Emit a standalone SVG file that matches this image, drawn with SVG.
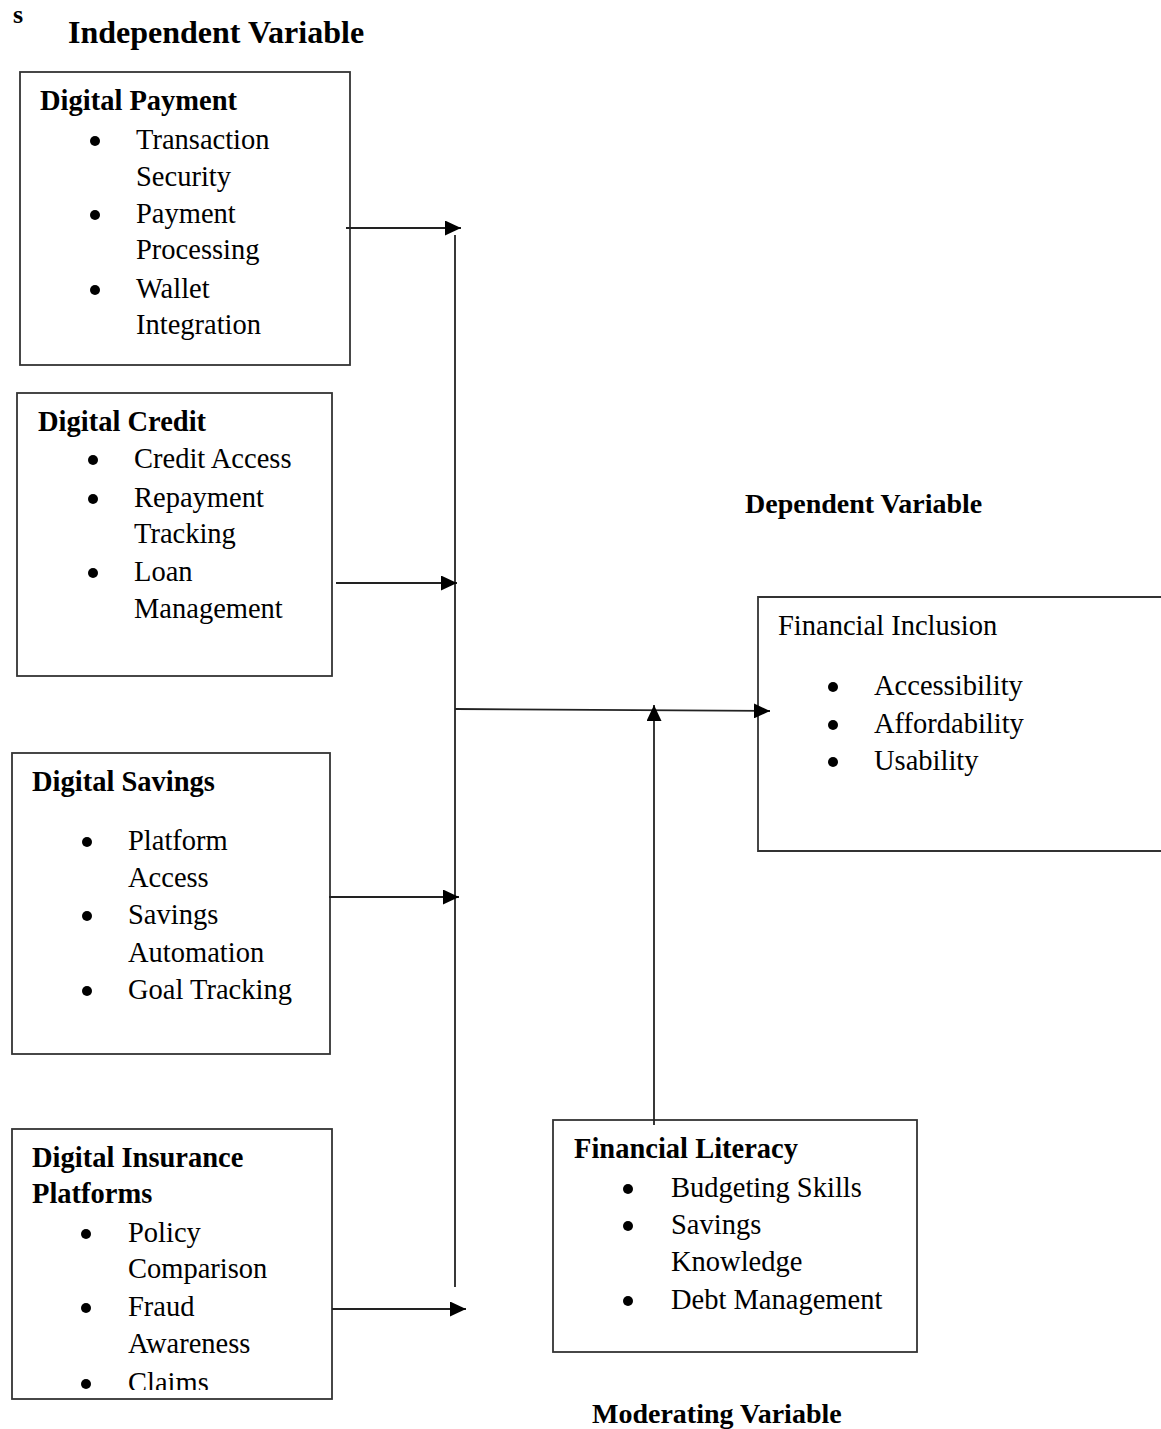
<svg xmlns="http://www.w3.org/2000/svg" width="1161" height="1429" viewBox="0 0 1161 1429">
<style>
text{font-family:"Liberation Serif","Times New Roman",serif;fill:#000}
.t{font-size:28.5px}
.b{font-size:28.5px;font-weight:bold}
.h{font-size:28px;font-weight:bold}
.box{fill:#fff;stroke:#333;stroke-width:1.8}
.c{fill:none;stroke:#222;stroke-width:1.8}
.dot{fill:#000}
</style>
<defs>
<marker id="ah" viewBox="0 0 16 15" refX="16" refY="7.5" markerWidth="16" markerHeight="15" markerUnits="userSpaceOnUse" orient="auto">
<path d="M0,0 L16,7.5 L0,15 z" fill="#000"/>
</marker>
<clipPath id="clipIns"><rect x="0" y="1120" width="400" height="270"/></clipPath>
</defs>
<rect width="1161" height="1429" fill="#fff"/>

<text x="13" y="23" style="font-size:26px;font-weight:bold">s</text>
<text x="68" y="43" style="font-size:32px;font-weight:bold">Independent Variable</text>
<text x="745" y="513" class="h">Dependent Variable</text>
<text x="592" y="1423" class="h">Moderating Variable</text>

<g id="digital-payment">
<rect class="box" x="20" y="72" width="330" height="293"/>
<text x="40" y="110" class="b">Digital Payment</text>
<circle class="dot" cx="95" cy="141" r="5"/>
<text x="136" y="149" class="t">Transaction</text>
<text x="136" y="186" class="t">Security</text>
<circle class="dot" cx="95" cy="215" r="5"/>
<text x="136" y="223" class="t">Payment</text>
<text x="136" y="259" class="t">Processing</text>
<circle class="dot" cx="95" cy="290" r="5"/>
<text x="136" y="298" class="t">Wallet</text>
<text x="136" y="334" class="t">Integration</text>
</g>

<g id="digital-credit">
<rect class="box" x="17" y="393" width="315" height="283"/>
<text x="38" y="431" class="b">Digital Credit</text>
<circle class="dot" cx="93" cy="460" r="5"/>
<text x="134" y="468" class="t">Credit Access</text>
<circle class="dot" cx="93" cy="499" r="5"/>
<text x="134" y="507" class="t">Repayment</text>
<text x="134" y="543" class="t">Tracking</text>
<circle class="dot" cx="93" cy="573" r="5"/>
<text x="134" y="581" class="t">Loan</text>
<text x="134" y="618" class="t">Management</text>
</g>

<g id="digital-savings">
<rect class="box" x="12" y="753" width="318" height="301"/>
<text x="32" y="791" class="b">Digital Savings</text>
<circle class="dot" cx="87" cy="842" r="5"/>
<text x="128" y="850" class="t">Platform</text>
<text x="128" y="887" class="t">Access</text>
<circle class="dot" cx="87" cy="916" r="5"/>
<text x="128" y="924" class="t">Savings</text>
<text x="128" y="962" class="t">Automation</text>
<circle class="dot" cx="87" cy="991" r="5"/>
<text x="128" y="999" class="t">Goal Tracking</text>
</g>

<g id="digital-insurance">
<rect class="box" x="12" y="1129" width="320" height="270"/>
<text x="32" y="1167" class="b">Digital Insurance</text>
<text x="32" y="1203" class="b">Platforms</text>
<circle class="dot" cx="86" cy="1234" r="5"/>
<text x="128" y="1242" class="t">Policy</text>
<text x="128" y="1278" class="t">Comparison</text>
<circle class="dot" cx="86" cy="1308" r="5"/>
<text x="128" y="1316" class="t">Fraud</text>
<text x="128" y="1353" class="t">Awareness</text>
<g clip-path="url(#clipIns)">
<circle class="dot" cx="86" cy="1384" r="5"/>
<text x="128" y="1392" class="t">Claims</text>
</g>
</g>

<g id="financial-inclusion">
<path class="box" d="M1162,597 H758 V851 H1162"/>
<text x="778" y="635" class="t">Financial Inclusion</text>
<circle class="dot" cx="833" cy="687" r="5"/>
<text x="874" y="695" class="t">Accessibility</text>
<circle class="dot" cx="833" cy="725" r="5"/>
<text x="874" y="733" class="t">Affordability</text>
<circle class="dot" cx="833" cy="762" r="5"/>
<text x="874" y="770" class="t">Usability</text>
</g>

<g id="financial-literacy">
<rect class="box" x="553" y="1120" width="364" height="232"/>
<text x="574" y="1158" class="b">Financial Literacy</text>
<circle class="dot" cx="628" cy="1189" r="5"/>
<text x="671" y="1197" class="t">Budgeting Skills</text>
<circle class="dot" cx="628" cy="1226" r="5"/>
<text x="671" y="1234" class="t">Savings</text>
<text x="671" y="1271" class="t">Knowledge</text>
<circle class="dot" cx="628" cy="1301" r="5"/>
<text x="671" y="1309" class="t">Debt Management</text>
</g>

<g id="connectors">
<line class="c" x1="346" y1="228" x2="461" y2="228" marker-end="url(#ah)"/>
<line class="c" x1="455" y1="235" x2="455" y2="1287"/>
<line class="c" x1="336" y1="583" x2="457" y2="583" marker-end="url(#ah)"/>
<line class="c" x1="329" y1="897" x2="459" y2="897" marker-end="url(#ah)"/>
<line class="c" x1="332" y1="1309" x2="466" y2="1309" marker-end="url(#ah)"/>
<line class="c" x1="455" y1="709" x2="770" y2="711" marker-end="url(#ah)"/>
<line class="c" x1="654" y1="1125" x2="654" y2="705" marker-end="url(#ah)"/>
</g>
</svg>
